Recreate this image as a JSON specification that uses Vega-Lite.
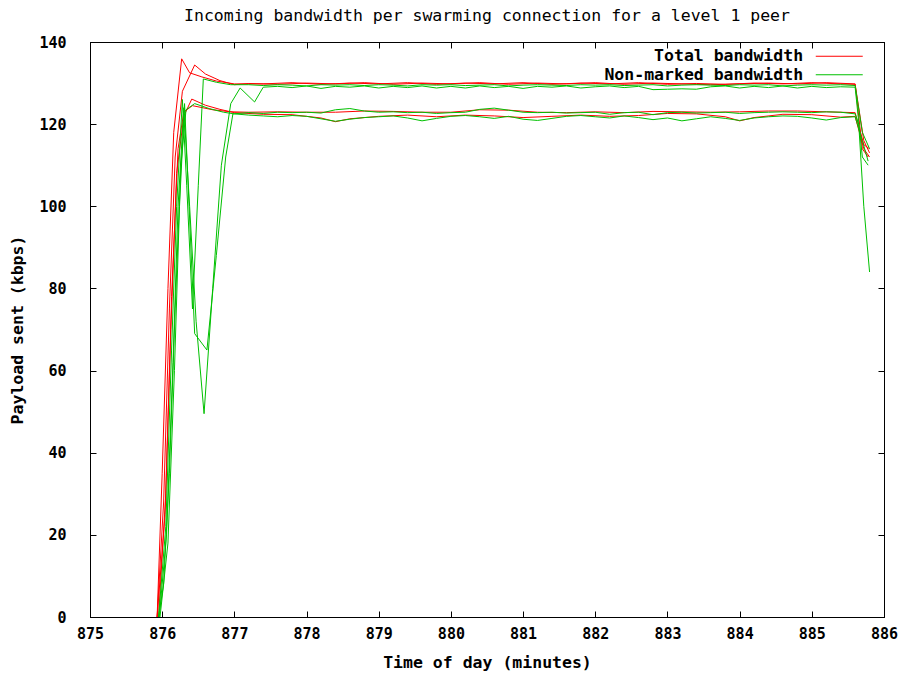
{
"$schema": "https://vega.github.io/schema/vega-lite/v6.json",
"autosize": {"type": "none"},
"padding": {"left": 90, "top": 42, "right": 20, "bottom": 60},
"width": 794,
"height": 575,
"background": "#ffffff",
"title": {"text": "Incoming bandwidth per swarming connection for a level 1 peer", "font": "DejaVu Sans Mono", "fontSize": 16.5, "fontWeight": "normal", "color": "#000000", "offset": 11, "anchor": "middle"},
"data": {"values": [
{"c":1,"s":"T","t":875.93,"v":0},{"c":1,"s":"T","t":876.0,"v":35},{"c":1,"s":"T","t":876.08,"v":80},{"c":1,"s":"T","t":876.16,"v":118},{"c":1,"s":"T","t":876.27,"v":135.9},{"c":1,"s":"T","t":876.38,"v":132.5},{"c":1,"s":"T","t":876.55,"v":131.5},{"c":1,"s":"T","t":876.75,"v":130.5},{"c":1,"s":"T","t":877.0,"v":129.8},{"c":1,"s":"T","t":877.4,"v":129.8},{"c":1,"s":"T","t":877.8,"v":130.1},{"c":1,"s":"T","t":878.2,"v":129.7},{"c":1,"s":"T","t":878.6,"v":130.0},{"c":1,"s":"T","t":879.0,"v":129.8},{"c":1,"s":"T","t":879.4,"v":130.1},{"c":1,"s":"T","t":879.8,"v":129.7},{"c":1,"s":"T","t":880.2,"v":130.0},{"c":1,"s":"T","t":880.6,"v":129.8},{"c":1,"s":"T","t":881.0,"v":130.1},{"c":1,"s":"T","t":881.4,"v":129.7},{"c":1,"s":"T","t":881.8,"v":130.0},{"c":1,"s":"T","t":882.2,"v":129.8},{"c":1,"s":"T","t":882.6,"v":130.1},{"c":1,"s":"T","t":883.0,"v":129.7},{"c":1,"s":"T","t":883.4,"v":129.9},{"c":1,"s":"T","t":883.8,"v":129.7},{"c":1,"s":"T","t":884.2,"v":130.0},{"c":1,"s":"T","t":884.6,"v":129.8},{"c":1,"s":"T","t":885.0,"v":130.1},{"c":1,"s":"T","t":885.4,"v":129.8},{"c":1,"s":"T","t":885.6,"v":129.7},{"c":1,"s":"T","t":885.72,"v":116},{"c":1,"s":"T","t":885.8,"v":113},
{"c":2,"s":"T","t":875.93,"v":0},{"c":2,"s":"T","t":876.02,"v":28},{"c":2,"s":"T","t":876.1,"v":75},{"c":2,"s":"T","t":876.18,"v":112},{"c":2,"s":"T","t":876.28,"v":128},{"c":2,"s":"T","t":876.45,"v":134.4},{"c":2,"s":"T","t":876.6,"v":132.2},{"c":2,"s":"T","t":876.8,"v":130.6},{"c":2,"s":"T","t":877.0,"v":129.6},{"c":2,"s":"T","t":877.2,"v":129.9},{"c":2,"s":"T","t":877.6,"v":129.7},{"c":2,"s":"T","t":878.0,"v":130.0},{"c":2,"s":"T","t":878.4,"v":129.8},{"c":2,"s":"T","t":878.8,"v":130.1},{"c":2,"s":"T","t":879.2,"v":129.7},{"c":2,"s":"T","t":879.6,"v":130.0},{"c":2,"s":"T","t":880.0,"v":129.8},{"c":2,"s":"T","t":880.4,"v":130.1},{"c":2,"s":"T","t":880.8,"v":129.7},{"c":2,"s":"T","t":881.2,"v":130.0},{"c":2,"s":"T","t":881.6,"v":129.8},{"c":2,"s":"T","t":882.0,"v":130.1},{"c":2,"s":"T","t":882.4,"v":129.7},{"c":2,"s":"T","t":882.8,"v":130.0},{"c":2,"s":"T","t":883.2,"v":129.8},{"c":2,"s":"T","t":883.6,"v":129.6},{"c":2,"s":"T","t":884.0,"v":129.8},{"c":2,"s":"T","t":884.4,"v":130.0},{"c":2,"s":"T","t":884.8,"v":129.8},{"c":2,"s":"T","t":885.2,"v":130.1},{"c":2,"s":"T","t":885.6,"v":129.8},{"c":2,"s":"T","t":885.7,"v":114},{"c":2,"s":"T","t":885.78,"v":112},
{"c":3,"s":"T","t":875.93,"v":0},{"c":3,"s":"T","t":876.04,"v":25},{"c":3,"s":"T","t":876.12,"v":70},{"c":3,"s":"T","t":876.2,"v":108},{"c":3,"s":"T","t":876.3,"v":122},{"c":3,"s":"T","t":876.41,"v":126.1},{"c":3,"s":"T","t":876.6,"v":124.6},{"c":3,"s":"T","t":876.8,"v":123.6},{"c":3,"s":"T","t":877.0,"v":122.8},{"c":3,"s":"T","t":877.4,"v":122.4},{"c":3,"s":"T","t":877.8,"v":122.3},{"c":3,"s":"T","t":878.2,"v":121.5},{"c":3,"s":"T","t":878.4,"v":120.6},{"c":3,"s":"T","t":878.6,"v":121.3},{"c":3,"s":"T","t":879.0,"v":121.9},{"c":3,"s":"T","t":879.4,"v":122.2},{"c":3,"s":"T","t":879.8,"v":121.8},{"c":3,"s":"T","t":880.2,"v":122.2},{"c":3,"s":"T","t":880.6,"v":122.0},{"c":3,"s":"T","t":881.0,"v":121.6},{"c":3,"s":"T","t":881.4,"v":121.9},{"c":3,"s":"T","t":881.8,"v":122.2},{"c":3,"s":"T","t":882.2,"v":121.9},{"c":3,"s":"T","t":882.6,"v":122.1},{"c":3,"s":"T","t":883.0,"v":122.6},{"c":3,"s":"T","t":883.4,"v":122.5},{"c":3,"s":"T","t":883.8,"v":121.8},{"c":3,"s":"T","t":884.0,"v":120.8},{"c":3,"s":"T","t":884.2,"v":121.6},{"c":3,"s":"T","t":884.6,"v":122.4},{"c":3,"s":"T","t":885.0,"v":122.3},{"c":3,"s":"T","t":885.4,"v":121.7},{"c":3,"s":"T","t":885.6,"v":121.9},{"c":3,"s":"T","t":885.72,"v":114},{"c":3,"s":"T","t":885.8,"v":112},
{"c":4,"s":"T","t":875.95,"v":0},{"c":4,"s":"T","t":876.05,"v":30},{"c":4,"s":"T","t":876.13,"v":78},{"c":4,"s":"T","t":876.22,"v":114},{"c":4,"s":"T","t":876.3,"v":123},{"c":4,"s":"T","t":876.42,"v":124.5},{"c":4,"s":"T","t":876.7,"v":123.5},{"c":4,"s":"T","t":876.95,"v":123.0},{"c":4,"s":"T","t":877.2,"v":122.9},{"c":4,"s":"T","t":877.6,"v":123.0},{"c":4,"s":"T","t":878.0,"v":122.9},{"c":4,"s":"T","t":878.4,"v":122.9},{"c":4,"s":"T","t":878.8,"v":123.2},{"c":4,"s":"T","t":879.2,"v":123.1},{"c":4,"s":"T","t":879.6,"v":122.9},{"c":4,"s":"T","t":880.0,"v":122.9},{"c":4,"s":"T","t":880.4,"v":123.5},{"c":4,"s":"T","t":880.8,"v":123.4},{"c":4,"s":"T","t":881.2,"v":122.9},{"c":4,"s":"T","t":881.6,"v":122.8},{"c":4,"s":"T","t":882.0,"v":123.0},{"c":4,"s":"T","t":882.4,"v":122.8},{"c":4,"s":"T","t":882.8,"v":123.1},{"c":4,"s":"T","t":883.2,"v":123.0},{"c":4,"s":"T","t":883.6,"v":122.9},{"c":4,"s":"T","t":884.0,"v":123.0},{"c":4,"s":"T","t":884.4,"v":123.2},{"c":4,"s":"T","t":884.8,"v":123.2},{"c":4,"s":"T","t":885.2,"v":123.0},{"c":4,"s":"T","t":885.6,"v":122.8},{"c":4,"s":"T","t":885.72,"v":115},{"c":4,"s":"T","t":885.8,"v":114},
{"c":1,"s":"N","t":875.95,"v":0},{"c":1,"s":"N","t":876.05,"v":22},{"c":1,"s":"N","t":876.13,"v":65},{"c":1,"s":"N","t":876.2,"v":100},{"c":1,"s":"N","t":876.28,"v":126},{"c":1,"s":"N","t":876.34,"v":105},{"c":1,"s":"N","t":876.42,"v":75},{"c":1,"s":"N","t":876.5,"v":105},{"c":1,"s":"N","t":876.57,"v":131},{"c":1,"s":"N","t":876.75,"v":130.2},{"c":1,"s":"N","t":876.95,"v":129.6},{"c":1,"s":"N","t":877.2,"v":129.6},{"c":1,"s":"N","t":877.4,"v":129.4},{"c":1,"s":"N","t":877.6,"v":129.6},{"c":1,"s":"N","t":877.8,"v":129.5},{"c":1,"s":"N","t":878.0,"v":129.3},{"c":1,"s":"N","t":878.2,"v":129.6},{"c":1,"s":"N","t":878.4,"v":129.5},{"c":1,"s":"N","t":878.6,"v":129.6},{"c":1,"s":"N","t":878.8,"v":129.4},{"c":1,"s":"N","t":879.0,"v":129.6},{"c":1,"s":"N","t":879.2,"v":129.5},{"c":1,"s":"N","t":879.4,"v":129.3},{"c":1,"s":"N","t":879.6,"v":129.6},{"c":1,"s":"N","t":879.8,"v":129.5},{"c":1,"s":"N","t":880.0,"v":129.6},{"c":1,"s":"N","t":880.2,"v":129.4},{"c":1,"s":"N","t":880.4,"v":129.5},{"c":1,"s":"N","t":880.6,"v":129.6},{"c":1,"s":"N","t":880.8,"v":129.3},{"c":1,"s":"N","t":881.0,"v":129.5},{"c":1,"s":"N","t":881.2,"v":129.6},{"c":1,"s":"N","t":881.4,"v":129.5},{"c":1,"s":"N","t":881.6,"v":129.4},{"c":1,"s":"N","t":881.8,"v":129.6},{"c":1,"s":"N","t":882.0,"v":129.5},{"c":1,"s":"N","t":882.2,"v":129.6},{"c":1,"s":"N","t":882.4,"v":129.4},{"c":1,"s":"N","t":882.6,"v":129.5},{"c":1,"s":"N","t":882.8,"v":129.6},{"c":1,"s":"N","t":883.0,"v":129.3},{"c":1,"s":"N","t":883.2,"v":129.5},{"c":1,"s":"N","t":883.4,"v":129.6},{"c":1,"s":"N","t":883.6,"v":129.5},{"c":1,"s":"N","t":883.8,"v":129.4},{"c":1,"s":"N","t":884.0,"v":129.6},{"c":1,"s":"N","t":884.2,"v":129.5},{"c":1,"s":"N","t":884.4,"v":129.6},{"c":1,"s":"N","t":884.6,"v":129.3},{"c":1,"s":"N","t":884.8,"v":129.5},{"c":1,"s":"N","t":885.0,"v":129.6},{"c":1,"s":"N","t":885.2,"v":129.5},{"c":1,"s":"N","t":885.4,"v":129.6},{"c":1,"s":"N","t":885.6,"v":129.4},{"c":1,"s":"N","t":885.7,"v":118},{"c":1,"s":"N","t":885.8,"v":114},
{"c":2,"s":"N","t":875.96,"v":0},{"c":2,"s":"N","t":876.06,"v":20},{"c":2,"s":"N","t":876.15,"v":62},{"c":2,"s":"N","t":876.22,"v":100},{"c":2,"s":"N","t":876.3,"v":124},{"c":2,"s":"N","t":876.38,"v":100},{"c":2,"s":"N","t":876.47,"v":72},{"c":2,"s":"N","t":876.58,"v":49.5},{"c":2,"s":"N","t":876.7,"v":80},{"c":2,"s":"N","t":876.82,"v":110},{"c":2,"s":"N","t":876.95,"v":125},{"c":2,"s":"N","t":877.08,"v":128.8},{"c":2,"s":"N","t":877.28,"v":125.4},{"c":2,"s":"N","t":877.4,"v":129.0},{"c":2,"s":"N","t":877.6,"v":129.2},{"c":2,"s":"N","t":877.8,"v":128.9},{"c":2,"s":"N","t":878.0,"v":129.3},{"c":2,"s":"N","t":878.2,"v":128.7},{"c":2,"s":"N","t":878.4,"v":129.2},{"c":2,"s":"N","t":878.6,"v":129.0},{"c":2,"s":"N","t":878.8,"v":129.3},{"c":2,"s":"N","t":879.0,"v":128.8},{"c":2,"s":"N","t":879.2,"v":129.2},{"c":2,"s":"N","t":879.4,"v":128.9},{"c":2,"s":"N","t":879.6,"v":129.3},{"c":2,"s":"N","t":879.8,"v":128.8},{"c":2,"s":"N","t":880.0,"v":129.2},{"c":2,"s":"N","t":880.2,"v":128.8},{"c":2,"s":"N","t":880.4,"v":129.3},{"c":2,"s":"N","t":880.6,"v":128.9},{"c":2,"s":"N","t":880.8,"v":129.2},{"c":2,"s":"N","t":881.0,"v":128.7},{"c":2,"s":"N","t":881.2,"v":129.2},{"c":2,"s":"N","t":881.4,"v":129.0},{"c":2,"s":"N","t":881.6,"v":129.3},{"c":2,"s":"N","t":881.8,"v":128.8},{"c":2,"s":"N","t":882.0,"v":129.1},{"c":2,"s":"N","t":882.2,"v":129.3},{"c":2,"s":"N","t":882.4,"v":128.9},{"c":2,"s":"N","t":882.6,"v":129.2},{"c":2,"s":"N","t":882.8,"v":128.4},{"c":2,"s":"N","t":883.0,"v":128.5},{"c":2,"s":"N","t":883.2,"v":128.6},{"c":2,"s":"N","t":883.4,"v":128.5},{"c":2,"s":"N","t":883.6,"v":129.1},{"c":2,"s":"N","t":883.8,"v":129.3},{"c":2,"s":"N","t":884.0,"v":128.8},{"c":2,"s":"N","t":884.2,"v":129.2},{"c":2,"s":"N","t":884.4,"v":128.9},{"c":2,"s":"N","t":884.6,"v":129.3},{"c":2,"s":"N","t":884.8,"v":128.8},{"c":2,"s":"N","t":885.0,"v":129.2},{"c":2,"s":"N","t":885.2,"v":128.9},{"c":2,"s":"N","t":885.4,"v":129.1},{"c":2,"s":"N","t":885.6,"v":129.0},{"c":2,"s":"N","t":885.7,"v":112},{"c":2,"s":"N","t":885.78,"v":110},
{"c":3,"s":"N","t":875.97,"v":0},{"c":3,"s":"N","t":876.08,"v":18},{"c":3,"s":"N","t":876.17,"v":60},{"c":3,"s":"N","t":876.24,"v":100},{"c":3,"s":"N","t":876.31,"v":125},{"c":3,"s":"N","t":876.45,"v":69},{"c":3,"s":"N","t":876.62,"v":65},{"c":3,"s":"N","t":876.75,"v":88},{"c":3,"s":"N","t":876.88,"v":112},{"c":3,"s":"N","t":876.98,"v":122.5},{"c":3,"s":"N","t":877.2,"v":122.8},{"c":3,"s":"N","t":877.4,"v":122.6},{"c":3,"s":"N","t":877.6,"v":122.9},{"c":3,"s":"N","t":877.8,"v":122.8},{"c":3,"s":"N","t":878.0,"v":122.9},{"c":3,"s":"N","t":878.2,"v":122.7},{"c":3,"s":"N","t":878.4,"v":123.5},{"c":3,"s":"N","t":878.6,"v":123.8},{"c":3,"s":"N","t":878.8,"v":123.2},{"c":3,"s":"N","t":879.0,"v":122.9},{"c":3,"s":"N","t":879.2,"v":123.0},{"c":3,"s":"N","t":879.4,"v":122.8},{"c":3,"s":"N","t":879.6,"v":122.9},{"c":3,"s":"N","t":879.8,"v":122.6},{"c":3,"s":"N","t":880.0,"v":122.8},{"c":3,"s":"N","t":880.2,"v":122.9},{"c":3,"s":"N","t":880.4,"v":123.6},{"c":3,"s":"N","t":880.6,"v":123.9},{"c":3,"s":"N","t":880.8,"v":123.4},{"c":3,"s":"N","t":881.0,"v":122.9},{"c":3,"s":"N","t":881.2,"v":122.8},{"c":3,"s":"N","t":881.4,"v":122.9},{"c":3,"s":"N","t":881.6,"v":122.7},{"c":3,"s":"N","t":881.8,"v":122.8},{"c":3,"s":"N","t":882.0,"v":122.9},{"c":3,"s":"N","t":882.2,"v":122.4},{"c":3,"s":"N","t":882.4,"v":122.8},{"c":3,"s":"N","t":882.6,"v":122.9},{"c":3,"s":"N","t":882.8,"v":122.3},{"c":3,"s":"N","t":883.0,"v":122.8},{"c":3,"s":"N","t":883.2,"v":122.9},{"c":3,"s":"N","t":883.4,"v":122.7},{"c":3,"s":"N","t":883.6,"v":122.8},{"c":3,"s":"N","t":883.8,"v":122.9},{"c":3,"s":"N","t":884.0,"v":122.6},{"c":3,"s":"N","t":884.2,"v":122.8},{"c":3,"s":"N","t":884.4,"v":122.9},{"c":3,"s":"N","t":884.6,"v":123.0},{"c":3,"s":"N","t":884.8,"v":122.9},{"c":3,"s":"N","t":885.0,"v":122.8},{"c":3,"s":"N","t":885.2,"v":123.0},{"c":3,"s":"N","t":885.4,"v":122.9},{"c":3,"s":"N","t":885.6,"v":122.5},{"c":3,"s":"N","t":885.65,"v":120},{"c":3,"s":"N","t":885.72,"v":100},{"c":3,"s":"N","t":885.8,"v":84},
{"c":4,"s":"N","t":875.95,"v":0},{"c":4,"s":"N","t":876.02,"v":8},{"c":4,"s":"N","t":876.1,"v":35},{"c":4,"s":"N","t":876.18,"v":75},{"c":4,"s":"N","t":876.26,"v":110},{"c":4,"s":"N","t":876.33,"v":123.5},{"c":4,"s":"N","t":876.45,"v":125},{"c":4,"s":"N","t":876.65,"v":123.8},{"c":4,"s":"N","t":876.85,"v":122.9},{"c":4,"s":"N","t":877.0,"v":122.5},{"c":4,"s":"N","t":877.2,"v":122.2},{"c":4,"s":"N","t":877.4,"v":122.0},{"c":4,"s":"N","t":877.6,"v":121.8},{"c":4,"s":"N","t":877.8,"v":122.1},{"c":4,"s":"N","t":878.0,"v":121.9},{"c":4,"s":"N","t":878.2,"v":121.3},{"c":4,"s":"N","t":878.4,"v":120.7},{"c":4,"s":"N","t":878.6,"v":121.2},{"c":4,"s":"N","t":878.8,"v":121.6},{"c":4,"s":"N","t":879.0,"v":121.8},{"c":4,"s":"N","t":879.2,"v":122.0},{"c":4,"s":"N","t":879.4,"v":121.5},{"c":4,"s":"N","t":879.6,"v":120.8},{"c":4,"s":"N","t":879.8,"v":121.4},{"c":4,"s":"N","t":880.0,"v":121.9},{"c":4,"s":"N","t":880.2,"v":122.1},{"c":4,"s":"N","t":880.4,"v":121.8},{"c":4,"s":"N","t":880.6,"v":121.4},{"c":4,"s":"N","t":880.8,"v":121.9},{"c":4,"s":"N","t":881.0,"v":121.2},{"c":4,"s":"N","t":881.2,"v":120.9},{"c":4,"s":"N","t":881.4,"v":121.4},{"c":4,"s":"N","t":881.6,"v":121.9},{"c":4,"s":"N","t":881.8,"v":122.1},{"c":4,"s":"N","t":882.0,"v":121.8},{"c":4,"s":"N","t":882.2,"v":121.5},{"c":4,"s":"N","t":882.4,"v":122.0},{"c":4,"s":"N","t":882.6,"v":121.6},{"c":4,"s":"N","t":882.8,"v":121.1},{"c":4,"s":"N","t":883.0,"v":121.5},{"c":4,"s":"N","t":883.2,"v":120.8},{"c":4,"s":"N","t":883.4,"v":121.3},{"c":4,"s":"N","t":883.6,"v":121.8},{"c":4,"s":"N","t":883.8,"v":121.4},{"c":4,"s":"N","t":884.0,"v":120.9},{"c":4,"s":"N","t":884.2,"v":121.5},{"c":4,"s":"N","t":884.4,"v":121.8},{"c":4,"s":"N","t":884.6,"v":122.0},{"c":4,"s":"N","t":884.8,"v":121.9},{"c":4,"s":"N","t":885.0,"v":121.5},{"c":4,"s":"N","t":885.2,"v":121.0},{"c":4,"s":"N","t":885.4,"v":121.6},{"c":4,"s":"N","t":885.6,"v":121.8},{"c":4,"s":"N","t":885.7,"v":116},{"c":4,"s":"N","t":885.78,"v":111}
]},
"layer": [
{
"mark": {"type": "line", "strokeWidth": 1, "interpolate": "linear"},
"encoding": {
"x": {"field": "t", "type": "quantitative", "scale": {"domain": [875, 886], "nice": false, "zero": false},
 "axis": {"orient": "bottom", "title": "Time of day (minutes)", "values": [875,876,877,878,879,880,881,882,883,884,885,886], "format": "d", "labelFlush": false, "labelOverlap": false, "labelPadding": 15, "titlePadding": 13}},
"y": {"field": "v", "type": "quantitative", "scale": {"domain": [0, 140], "nice": false, "zero": true},
 "axis": {"orient": "left", "title": "Payload sent (kbps)", "values": [0,20,40,60,80,100,120,140], "format": "d", "labelOverlap": false, "labelFlush": false, "labelPadding": 30, "titlePadding": 13}},
"color": {"field": "s", "type": "nominal", "scale": {"domain": ["T", "N"], "range": ["#ff0000", "#00c000"]},
 "legend": {"orient": "none", "legendX": 741, "legendY": 6, "title": null, "symbolType": "M-4,0H4", "symbolSize": 138, "symbolStrokeWidth": 1, "symbolOpacity": 1, "symbolFillColor": "transparent", "labelAlign": "right", "labelOffset": -44.4, "labelLimit": 0, "labelFont": "DejaVu Sans Mono", "labelFontSize": 16.5, "labelFontWeight": "bold", "labelColor": "#000000", "rowPadding": 1.5, "labelExpr": "datum.label == 'T' ? 'Total bandwidth' : 'Non-marked bandwidth'"}},
"detail": {"field": "c", "type": "nominal"}
}
},
{
"mark": {"type": "point", "opacity": 0},
"encoding": {
"x": {"field": "t", "type": "quantitative", "axis": {"orient": "top", "labels": false, "title": null, "values": [875,876,877,878,879,880,881,882,883,884,885,886]}},
"y": {"field": "v", "type": "quantitative", "axis": {"orient": "right", "labels": false, "title": null, "values": [0,20,40,60,80,100,120,140]}}
}
}
],
"resolve": {"axis": {"x": "independent", "y": "independent"}},
"config": {
"view": {"stroke": "#000000", "strokeWidth": 1},
"axis": {"domainColor": "#000000", "tickColor": "#000000", "tickSize": -6, "grid": false, "labelFont": "DejaVu Sans Mono", "labelFontSize": 15, "labelFontWeight": "bold", "labelColor": "#000000", "titleFont": "DejaVu Sans Mono", "titleFontSize": 16.5, "titleFontWeight": "bold", "titleColor": "#000000"}
}
}
